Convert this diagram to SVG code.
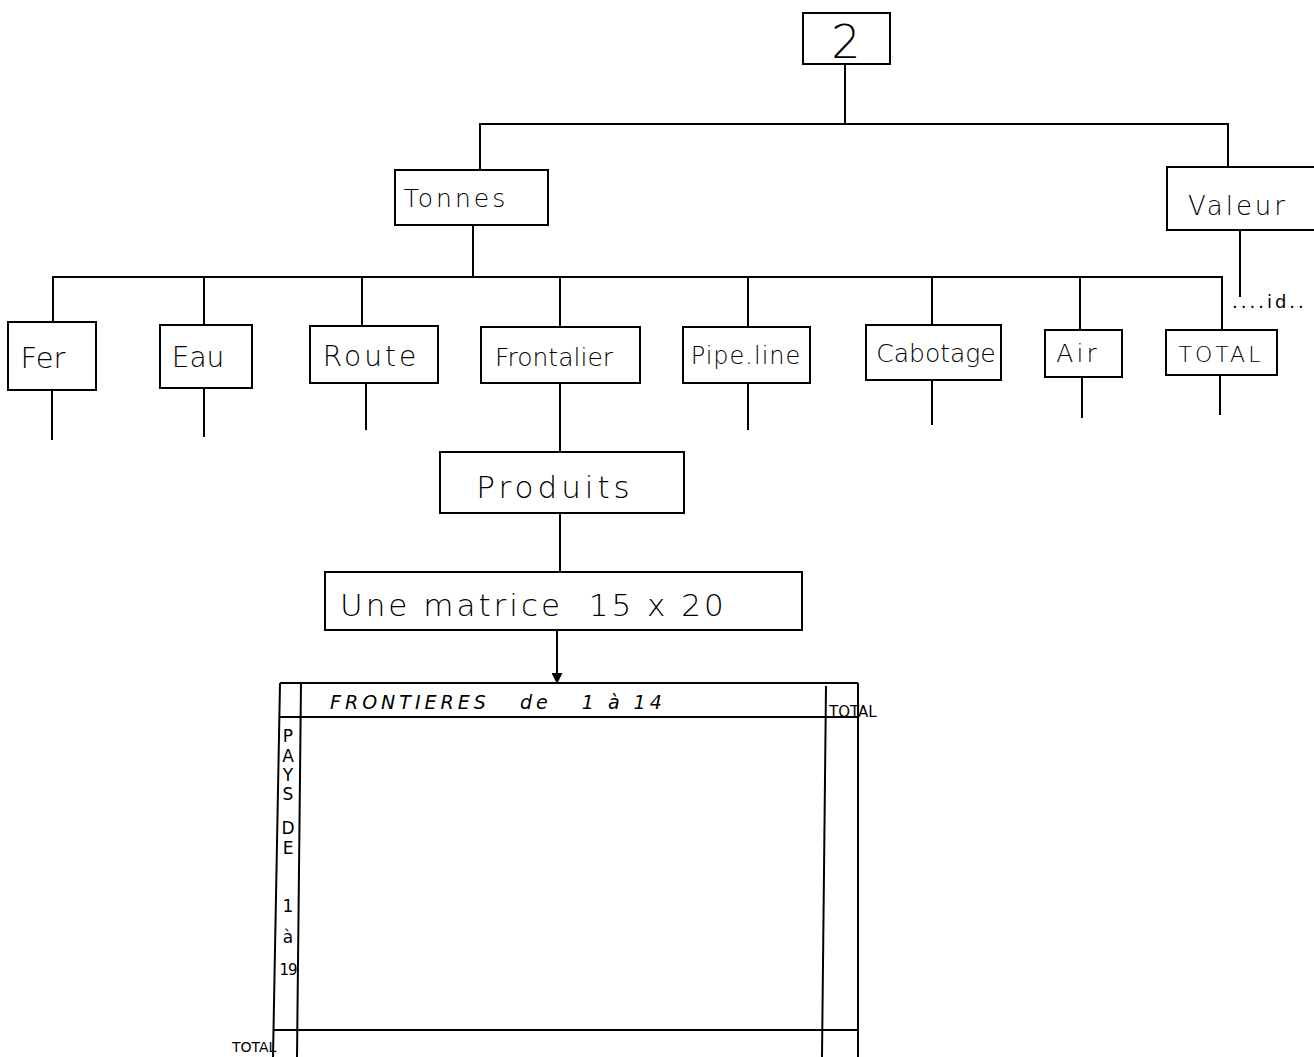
<svg xmlns="http://www.w3.org/2000/svg" width="1314" height="1057" viewBox="0 0 1314 1057">
<style>
.b{fill:none;stroke:#000;stroke-width:2}
.l{fill:none;stroke:#000;stroke-width:2}
.t{font-family:"DejaVu Sans","Liberation Sans",sans-serif;font-weight:300;fill:#000;text-anchor:middle}
.s{font-family:"DejaVu Sans","Liberation Sans",sans-serif;font-weight:300;fill:#000}
.m{font-family:"DejaVu Sans","Liberation Sans",sans-serif;font-weight:400;fill:#000}
</style>
<defs>
<marker id="ah" viewBox="0 0 10 10" refX="10" refY="5" markerWidth="13" markerHeight="11" orient="auto" markerUnits="userSpaceOnUse">
<path d="M0,0 L10,5 L0,10 z" fill="#000"/>
</marker>
</defs>
<rect width="1314" height="1057" fill="#fff"/>
<g id="connectors">
<path class="l" d="M845,64 V124"/>
<path class="l" d="M480,170 V124 H1228 V167"/>
<path class="l" d="M473,225 V278"/>
<path class="l" d="M53,322 V277 H1222 V330"/>
<path class="l" d="M204,277 V325"/>
<path class="l" d="M362,277 V326"/>
<path class="l" d="M560,277 V327"/>
<path class="l" d="M748,277 V327"/>
<path class="l" d="M932,277 V325"/>
<path class="l" d="M1080,277 V330"/>
<path class="l" d="M1240,230 V297"/>
<path class="l" d="M52,390 V440"/>
<path class="l" d="M204,388 V437"/>
<path class="l" d="M366,383 V430"/>
<path class="l" d="M560,383 V452"/>
<path class="l" d="M748,383 V430"/>
<path class="l" d="M932,380 V425"/>
<path class="l" d="M1082,377 V418"/>
<path class="l" d="M1220,375 V415"/>
<path class="l" d="M560,513 V572"/>
<path class="l" d="M557,630 V684" marker-end="url(#ah)"/>
</g>
<g id="n2"><rect class="b" x="803" y="13" width="87" height="51"/><text class="t" x="846" y="58" font-size="46">2</text></g>
<g id="tonnes"><rect class="b" x="395" y="170" width="153" height="55"/><text class="t" x="456" y="207" font-size="25" letter-spacing="3">Tonnes</text></g>
<g id="valeur"><rect class="b" x="1167" y="167" width="150" height="63"/><text class="t" x="1238" y="215" font-size="26" letter-spacing="3">Valeur</text></g>
<g id="id"><text class="m" x="1232" y="308" font-size="18" letter-spacing="3">....id..</text></g>
<g id="fer"><rect class="b" x="8" y="322" width="88" height="68"/><text class="t" x="43" y="368" font-size="29">Fer</text></g>
<g id="eau"><rect class="b" x="160" y="325" width="92" height="63"/><text class="t" x="198" y="367" font-size="28">Eau</text></g>
<g id="route"><rect class="b" x="310" y="326" width="128" height="57"/><text class="t" x="371" y="366" font-size="28" letter-spacing="3">Route</text></g>
<g id="frontalier"><rect class="b" x="481" y="327" width="159" height="56"/><text class="t" x="554" y="366" font-size="25">Frontalier</text></g>
<g id="pipeline"><rect class="b" x="683" y="327" width="127" height="56"/><text class="t" x="746" y="364" font-size="24" letter-spacing="1">Pipe.line</text></g>
<g id="cabotage"><rect class="b" x="866" y="325" width="135" height="55"/><text class="t" x="936" y="362" font-size="25">Cabotage</text></g>
<g id="air"><rect class="b" x="1045" y="330" width="77" height="47"/><text class="t" x="1078" y="362" font-size="25" letter-spacing="3">Air</text></g>
<g id="total"><rect class="b" x="1166" y="330" width="111" height="45"/><text class="t" x="1221" y="362" font-size="22" letter-spacing="3">TOTAL</text></g>
<g id="produits"><rect class="b" x="440" y="452" width="244" height="61"/><text class="t" x="555" y="498" font-size="31" letter-spacing="4">Produits</text></g>
<g id="matrice"><rect class="b" x="325" y="572" width="477" height="58"/><text class="s" x="340" y="616" font-size="31" letter-spacing="3" xml:space="preserve">Une matrice  15 x 20</text></g>
<g id="table">
<path class="l" d="M280,683 H858"/>
<path class="l" d="M280,717 H858"/>
<path class="l" d="M280,683 L273,1057"/>
<path class="l" d="M301,683 L297,1057"/>
<path class="l" d="M826,686 L822,1057"/>
<path class="l" d="M858,683 V1057"/>
<path class="l" d="M273,1030 H858"/>
<text class="m" x="330" y="709" font-size="19" font-style="italic" letter-spacing="4" xml:space="preserve">FRONTIERES   de   1 à 14</text>
<text class="m" x="829" y="717" font-size="15">TOTAL</text>
<text class="m" x="232" y="1052" font-size="14">TOTAL</text>
<g class="m" font-size="17" text-anchor="middle">
<text x="288" y="742">P</text>
<text x="288" y="762">A</text>
<text x="288" y="781">Y</text>
<text x="288" y="800">S</text>
<text x="288" y="834">D</text>
<text x="288" y="854">E</text>
<text x="288" y="912">1</text>
<text x="288" y="943">à</text>
<text x="288" y="975" font-size="15" letter-spacing="-1">19</text>
</g>
</g>
</svg>
